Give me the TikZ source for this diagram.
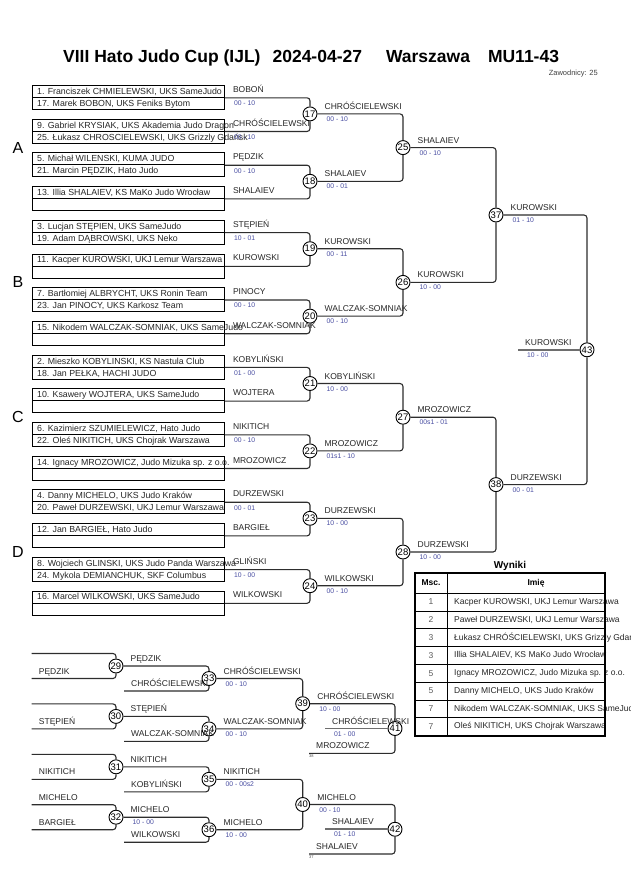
\documentclass[tikz,border=0pt]{standalone}
\usepackage{fontspec}
\setmainfont{Liberation Sans}
\usetikzlibrary{positioning}
\definecolor{scorecol}{RGB}{70,75,160}
\definecolor{wirecol}{RGB}{45,45,45}
\definecolor{feedcol}{RGB}{110,110,110}
\newcommand{\fs}[1]{\fontsize{#1}{#1}\selectfont}

\begin{document}
\begin{tikzpicture}[x=1pt,y=-1pt,font=\fs{8.5}]
\tikzstyle{entry}=[draw, line width=0.8pt, minimum width=192pt, minimum height=12pt, inner sep=0pt, anchor=north west]
\tikzstyle{etext}=[anchor=base west, inner sep=0pt, xshift=5pt, yshift=-3pt, font=\fs{8.8}, text=black!85]
\tikzstyle{pname}=[anchor=base west, inner sep=0pt, xshift=8pt, yshift=-1pt, text=black!85]
\tikzstyle{pscore}=[anchor=base west, inner sep=0pt, xshift=9pt, yshift=-2.3pt, font=\fs{6.8}, text=scorecol]
\tikzstyle{fight}=[draw, circle, fill=white, line width=0.9pt, inner sep=0pt, minimum size=14pt, font=\fs{9.5}]
\tikzstyle{wire}=[line width=1.1pt, wirecol, rounded corners=3pt]
\tikzstyle{feed}=[line width=1.8pt, feedcol]
\tikzstyle{wname}=[anchor=base west, inner sep=0pt, xshift=7pt, yshift=4.5pt, text=black!85]
\tikzstyle{score}=[anchor=base west, inner sep=0pt, xshift=9pt, yshift=-7.5pt, font=\fs{6.8}, text=scorecol]
\tikzstyle{group}=[inner sep=0pt, font=\fs{16}]
\useasboundingbox (0,0) rectangle (630,891);

% title
\node[anchor=west, inner sep=0pt, font=\bfseries\fs{17.5}] (title) at (63,57.5)
  {VIII Hato Judo Cup (IJL)\hspace{12pt}2024-04-27\hspace{24pt}Warszawa\hspace{18pt}MU11-43};
\node[anchor=east, inner sep=0pt, font=\fs{7.5}, text=black!75] (count) at (598,74) {Zawodnicy: 25};

% groups
\node[group] (A) at (18,147.5) {A};
\node[group] (B) at (18,282.3) {B};
\node[group] (C) at (18,417.1) {C};
\node[group] (D) at (18,551.9) {D};

% entries
\foreach \k/\ta/\tb/\w/\s in {
 1/{1. Franciszek CHMIELEWSKI, UKS SameJudo}/{17. Marek BOBON, UKS Feniks Bytom}/BOBOŃ/{00 - 10},
 2/{9. Gabriel KRYSIAK, UKS Akademia Judo Dragon}/{25. Łukasz CHROSCIELEWSKI, UKS Grizzly Gdańsk}/CHRÓŚCIELEWSKI/{00 - 10},
 3/{5. Michał WILENSKI, KUMA JUDO}/{21. Marcin PĘDZIK, Hato Judo}/PĘDZIK/{00 - 10},
 4/{13. Illia SHALAIEV, KS MaKo Judo Wrocław}/{}/SHALAIEV/{},
 5/{3. Lucjan STĘPIEN, UKS SameJudo}/{19. Adam DĄBROWSKI, UKS Neko}/STĘPIEŃ/{10 - 01},
 6/{11. Kacper KUROWSKI, UKJ Lemur Warszawa}/{}/KUROWSKI/{},
 7/{7. Bartłomiej ALBRYCHT, UKS Ronin Team}/{23. Jan PINOCY, UKS Karkosz Team}/PINOCY/{00 - 10},
 8/{15. Nikodem WALCZAK-SOMNIAK, UKS SameJudo}/{}/WALCZAK-SOMNIAK/{},
 9/{2. Mieszko KOBYLINSKI, KS Nastula Club}/{18. Jan PEŁKA, HACHI JUDO}/KOBYLIŃSKI/{01 - 00},
 10/{10. Ksawery WOJTERA, UKS SameJudo}/{}/WOJTERA/{},
 11/{6. Kazimierz SZUMIELEWICZ, Hato Judo}/{22. Oleś NIKITICH, UKS Chojrak Warszawa}/NIKITICH/{00 - 10},
 12/{14. Ignacy MROZOWICZ, Judo Mizuka sp. z o.o.}/{}/MROZOWICZ/{},
 13/{4. Danny MICHELO, UKS Judo Kraków}/{20. Paweł DURZEWSKI, UKJ Lemur Warszawa}/DURZEWSKI/{00 - 01},
 14/{12. Jan BARGIEŁ, Hato Judo}/{}/BARGIEŁ/{},
 15/{8. Wojciech GLINSKI, UKS Judo Panda Warszawa}/{24. Mykola DEMIANCHUK, SKF Columbus}/GLIŃSKI/{10 - 00},
 16/{16. Marcel WILKOWSKI, UKS SameJudo}/{}/WILKOWSKI/{}}{
  \node[entry] (p\k) at (32,{85+33.7*(\k-1)}) {};
  \node[entry] (q\k) at (32,{97+33.7*(\k-1)}) {};
  \node[etext] at (p\k.west) {\ta};
  \node[etext] at (q\k.west) {\tb};
  \node[pname] at (p\k.east) {\w};
  \node[pscore] at (q\k.east) {\s};
}

% fights, main bracket
\foreach \m/\x/\y in {17/310/113.9, 18/310/181.3, 19/310/248.7, 20/310/316.1,
  21/310/383.5, 22/310/450.9, 23/310/518.3, 24/310/585.7,
  25/403/147.6, 26/403/282.4, 27/403/417.2, 28/403/552.0,
  37/496/215.0, 38/496/484.6, 43/587/349.8}
  \node[fight] (m\m) at (\x,\y) {\m};

\foreach \a/\b/\m in {1/2/17, 3/4/18, 5/6/19, 7/8/20, 9/10/21, 11/12/22, 13/14/23, 15/16/24}{
  \draw[wire] (p\a.south east) -| (m\m.north);
  \draw[wire] (p\b.south east) -| (m\m.south);
}
\foreach \a/\b/\m in {17/18/25, 19/20/26, 21/22/27, 23/24/28, 25/26/37, 27/28/38, 37/38/43}{
  \draw[wire] (m\a.east) -| (m\m.north);
  \draw[wire] (m\b.east) -| (m\m.south);
}
\coordinate (fin) at (518,349.8);
\draw[feed] (fin) -- (m43.west);

% fights, repechage
\foreach \m/\x/\y in {29/116/666, 30/116/716.4, 31/116/766.8, 32/116/817.2,
  33/209/678.5, 34/209/728.9, 35/209/779.3, 36/209/829.7,
  39/302.7/703.7, 40/302.7/804.5, 41/395/728.5, 42/395/829.25}
  \node[fight] (m\m) at (\x,\y) {\m};

\coordinate (a29) at (31.7,653.5); \coordinate (b29) at (31.7,678.5);
\coordinate (a30) at (31.7,703.9); \coordinate (b30) at (31.7,728.9);
\coordinate (a31) at (31.7,754.3); \coordinate (b31) at (31.7,779.3);
\coordinate (a32) at (31.7,804.7); \coordinate (b32) at (31.7,829.7);
\coordinate (b33) at (124,691); \coordinate (b34) at (124,741.4);
\coordinate (b35) at (124,791.8); \coordinate (b36) at (124,842.2);
\coordinate (b41) at (309,753.3); \coordinate (b42) at (309,854);
\coordinate (f41) at (325,728.5); \coordinate (f42) at (325,829.25);

\foreach \m in {29,30,31,32}{
  \draw[wire] (a\m) -| (m\m.north);
  \draw[wire] (b\m) -| (m\m.south);
}
\foreach \a/\m in {29/33, 30/34, 31/35, 32/36, 39/41, 40/42}{
  \draw[wire] (m\a.east) -| (m\m.north);
  \draw[wire] (b\m) -| (m\m.south);
}
\draw[wire] (m33.east) -| (m39.north);
\draw[wire] (m34.east) -| (m39.south);
\draw[wire] (m35.east) -| (m40.north);
\draw[wire] (m36.east) -| (m40.south);
\draw[feed] (f41) -- (m41.west);
\draw[feed] (f42) -- (m42.west);

% names and scores on the lines
\foreach \at/\w/\s in {
 m17.east/CHRÓŚCIELEWSKI/{00 - 10}, m18.east/SHALAIEV/{00 - 01},
 m19.east/KUROWSKI/{00 - 11}, m20.east/WALCZAK-SOMNIAK/{00 - 10},
 m21.east/KOBYLIŃSKI/{10 - 00}, m22.east/MROZOWICZ/{01s1 - 10},
 m23.east/DURZEWSKI/{10 - 00}, m24.east/WILKOWSKI/{00 - 10},
 m25.east/SHALAIEV/{00 - 10}, m26.east/KUROWSKI/{10 - 00},
 m27.east/MROZOWICZ/{00s1 - 01}, m28.east/DURZEWSKI/{10 - 00},
 m37.east/KUROWSKI/{01 - 10}, m38.east/DURZEWSKI/{00 - 01},
 fin/KUROWSKI/{10 - 00},
 b29/PĘDZIK/{}, b30/STĘPIEŃ/{}, b31/NIKITICH/{}, a32/MICHELO/{}, b32/BARGIEŁ/{},
 m29.east/PĘDZIK/{}, m30.east/STĘPIEŃ/{}, m31.east/NIKITICH/{}, m32.east/MICHELO/{10 - 00},
 b33/CHRÓŚCIELEWSKI/{}, b34/WALCZAK-SOMNIAK/{}, b35/KOBYLIŃSKI/{}, b36/WILKOWSKI/{},
 m33.east/CHRÓŚCIELEWSKI/{00 - 10}, m34.east/WALCZAK-SOMNIAK/{00 - 10},
 m35.east/NIKITICH/{00 - 00s2}, m36.east/MICHELO/{10 - 00},
 m39.east/CHRÓŚCIELEWSKI/{10 - 00}, m40.east/MICHELO/{00 - 10},
 f41/CHRÓŚCIELEWSKI/{01 - 00}, f42/SHALAIEV/{01 - 10},
 b41/MROZOWICZ/{}, b42/SHALAIEV/{}}{
  \node[wname] at (\at) {\w};
  \node[score] at (\at) {\s};
}
\node[anchor=north west, inner sep=0pt, yshift=-1.5pt, font=\fs{4}, text=black!70] (from41) at (b41) {38};
\node[anchor=north west, inner sep=0pt, yshift=-1.5pt, font=\fs{4}, text=black!70] (from42) at (b42) {37};

% results
\node[font=\bfseries\fs{10}] (wyniki) at (510,566) {Wyniki};
\draw[line width=0.6pt] (447,573) -- (447,736);
\foreach \r in {0,...,7}
  \draw[line width=0.6pt] (415,{593+17.8*\r}) -- (605,{593+17.8*\r});
\node[font=\bfseries\fs{8.5}] (msc) at (431,583) {Msc.};
\node[font=\bfseries\fs{8.5}] (imie) at (536,583) {Imię};
\foreach \r/\n/\t in {0/1/{Kacper KUROWSKI, UKJ Lemur Warszawa},
  1/2/{Paweł DURZEWSKI, UKJ Lemur Warszawa},
  2/3/{Łukasz CHRÓŚCIELEWSKI, UKS Grizzly Gdańsk},
  3/3/{Illia SHALAIEV, KS MaKo Judo Wrocław},
  4/5/{Ignacy MROZOWICZ, Judo Mizuka sp. z o.o.},
  5/5/{Danny MICHELO, UKS Judo Kraków},
  6/7/{Nikodem WALCZAK-SOMNIAK, UKS SameJudo},
  7/7/{Oleś NIKITICH, UKS Chojrak Warszawa}}{
  \node[text=black!65] at (431,{602+17.8*\r}) {\n};
  \node[anchor=west, inner sep=0pt, text=black!85] at (454,{602+17.8*\r}) {\t};
}
\draw[line width=2pt] (415,573) rectangle (605,736);
\end{tikzpicture}
\end{document}
